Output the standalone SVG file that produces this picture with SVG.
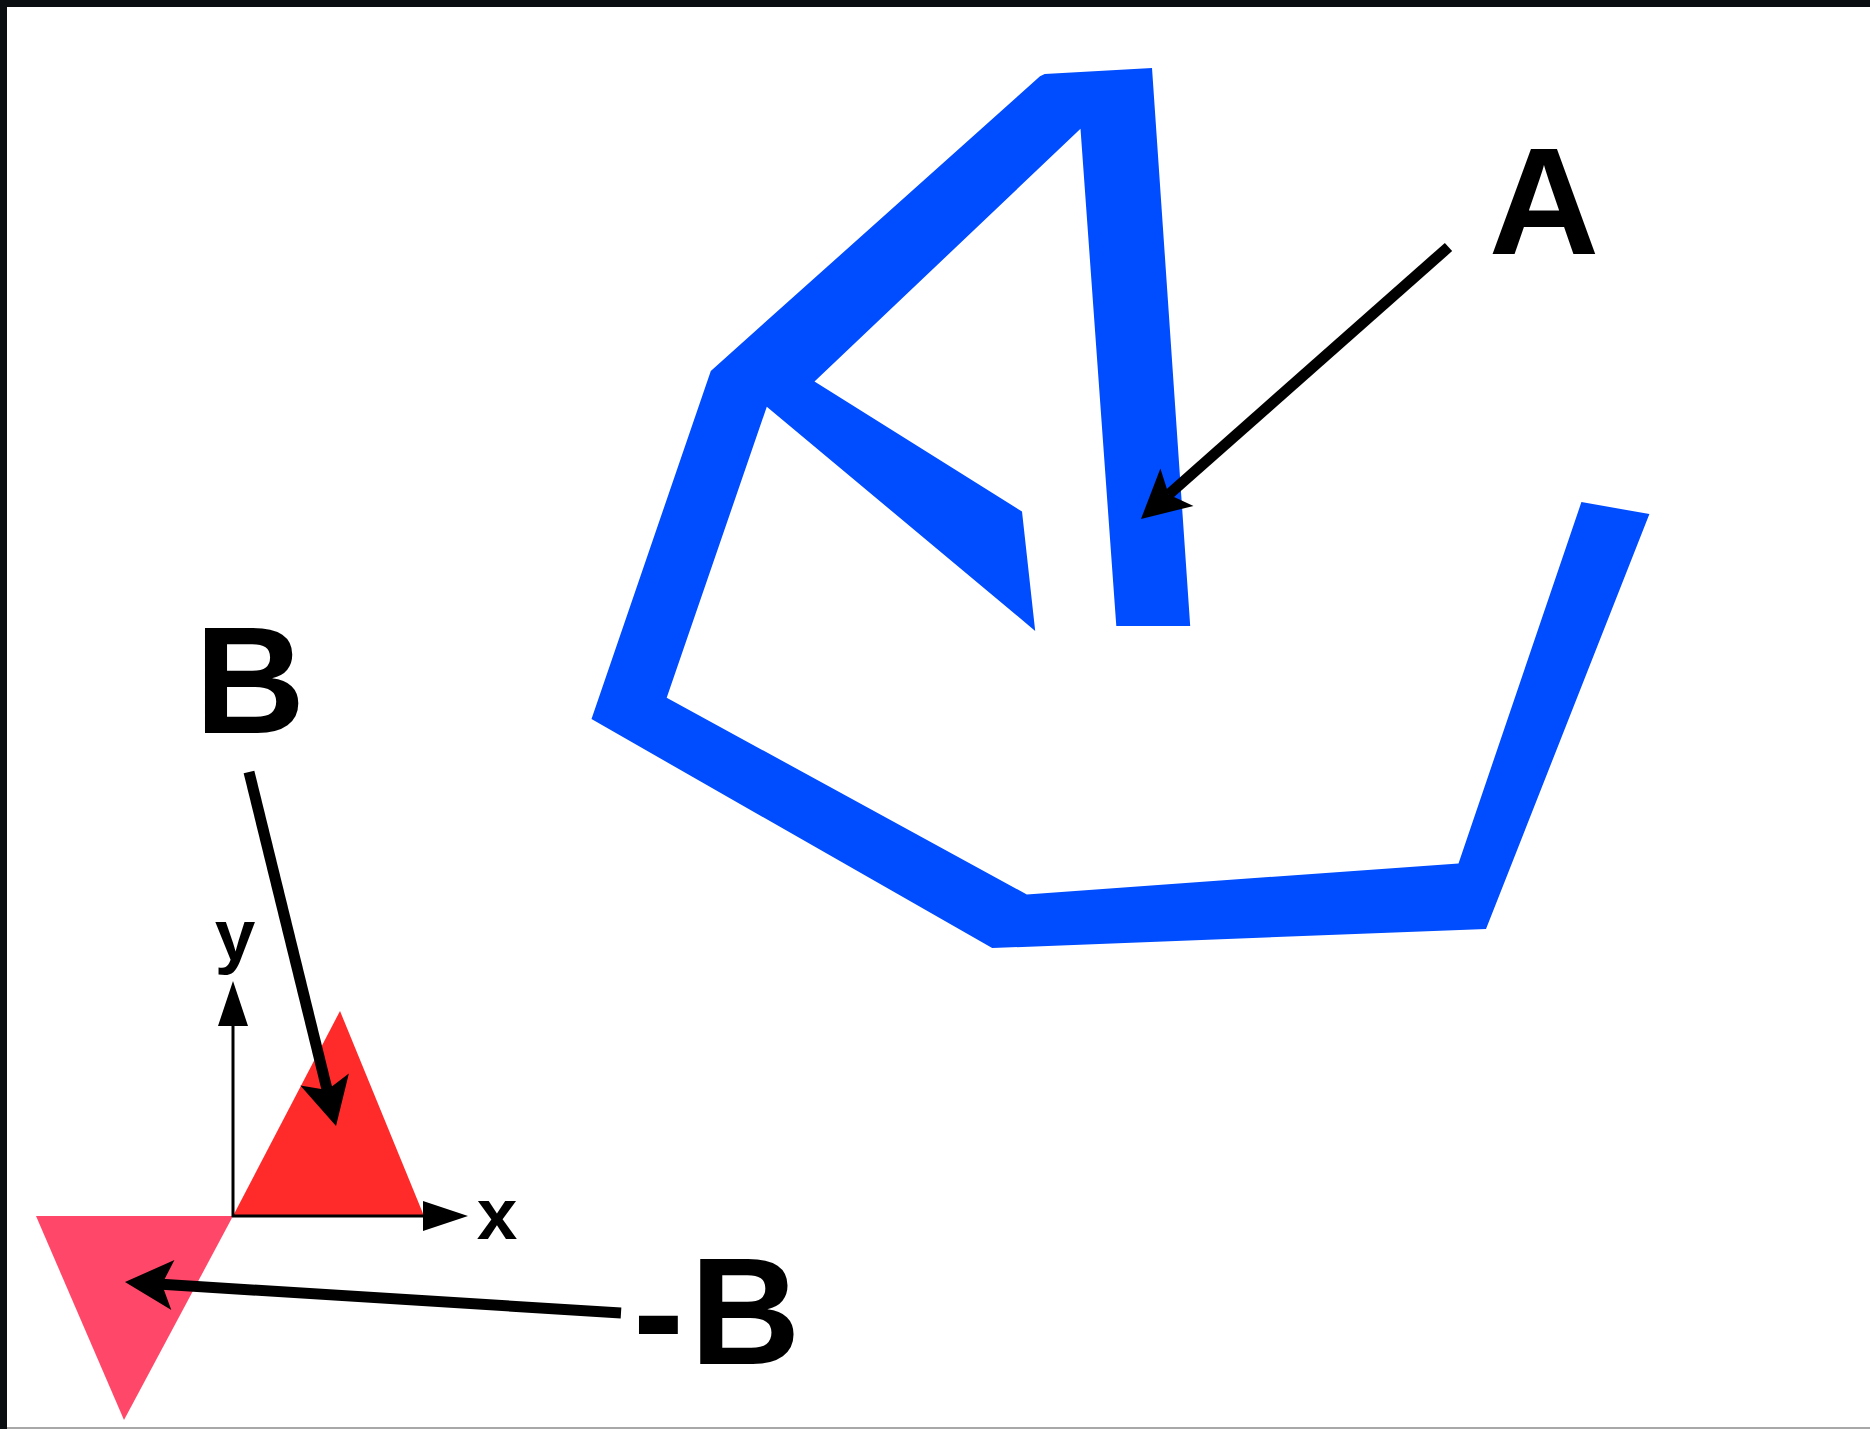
<svg xmlns="http://www.w3.org/2000/svg" width="1870" height="1429" viewBox="0 0 1870 1429">
  <style>
    .lbl { font-family: "Liberation Sans", Arial, sans-serif; font-weight: bold; fill: #000; }
    .big { font-size: 153px; }
    .small { font-size: 73px; }
    .conn { stroke: #000; stroke-width: 11; fill: none; stroke-linecap: butt; marker-end: url(#head); }
    .axis { stroke: #000; stroke-width: 3; fill: none; marker-end: url(#axhead); }
  </style>
  <defs>
    <marker id="head" markerUnits="userSpaceOnUse" viewBox="-12 -26 50 52" refX="0" refY="0" markerWidth="50" markerHeight="52" orient="auto">
      <path d="M37,0 L-11,-25 L0,0 L-11,25 Z" fill="#000"/>
    </marker>
    <marker id="axhead" markerUnits="userSpaceOnUse" viewBox="0 -16 46 32" refX="0" refY="0" markerWidth="46" markerHeight="32" orient="auto">
      <path d="M0,-15 L45,0 L0,15 Z" fill="#000"/>
    </marker>
  </defs>

  <rect x="0" y="0" width="1870" height="1429" fill="#ffffff"/>
  <g id="frame">
    <rect x="0" y="0" width="1870" height="7" fill="#0b0e11"/>
    <rect x="0" y="0" width="7" height="1429" fill="#0b0e11"/>
    <rect x="7" y="1427" width="1863" height="2" fill="#a8a8a8"/>
  </g>

  <g id="shapeA">
    <polygon fill="#004cff" points="1044.7,73.9 1152,68 1190.2,626.1 1116.3,626.1 1080.5,128.8 814.5,381.6 1022,511.6 1035.2,630.9 766.8,406.7 666.7,697.7 1026.8,894.5 1458.5,863.4 1581.4,502.1 1649.4,514 1486,929 992.2,948.1 591.5,719.1 710.8,370.9 1040,76.3"/>
  </g>

  <g id="triangleB">
    <polygon fill="#ff2a2a" points="233,1216 340,1011 424,1216"/>
  </g>

  <g id="triangleNegB">
    <polygon fill="#ff4869" points="36,1216 233,1216 124,1420"/>
  </g>

  <g id="axes">
    <line class="axis" x1="233" y1="1217" x2="233" y2="1026"/>
    <line class="axis" x1="232" y1="1216" x2="423" y2="1216"/>
    <text class="lbl small" x="235" y="960" text-anchor="middle">y</text>
    <text class="lbl small" x="497" y="1239" text-anchor="middle">x</text>
  </g>

  <g id="labelA">
    <text class="lbl big" x="1544" y="254" text-anchor="middle">A</text>
  </g>
  <g id="labelB">
    <text class="lbl big" x="250" y="733" text-anchor="middle">B</text>
  </g>
  <g id="labelNegB">
    <text class="lbl big" x="633" y="1364">-<tspan dx="6">B</tspan></text>
  </g>

  <g id="connectors">
    <line class="conn" x1="1448.5" y1="247" x2="1168.7" y2="494.5"/>
    <line class="conn" x1="249" y1="772" x2="327.2" y2="1090.1"/>
    <line class="conn" x1="621" y1="1313" x2="161.9" y2="1284.3"/>
  </g>
</svg>
